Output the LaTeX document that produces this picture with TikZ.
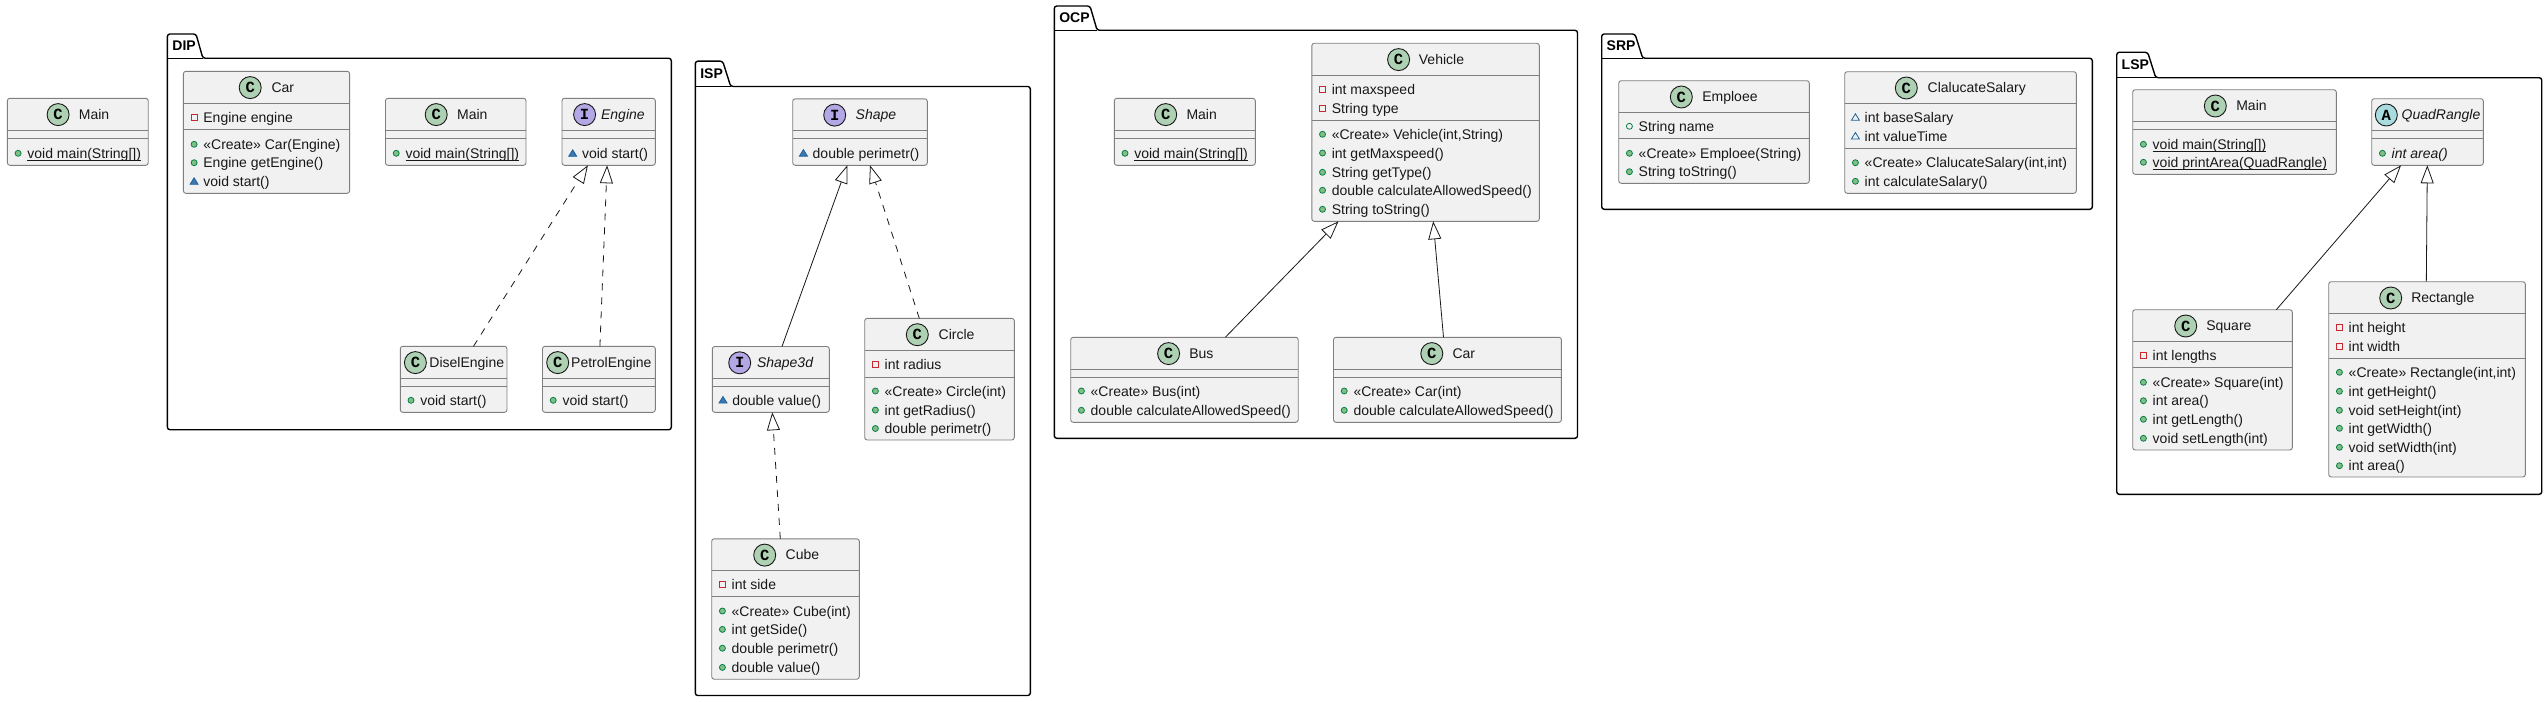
\documentclass[tikz,border=0pt]{standalone}
\usepackage{fontspec}
\setmainfont{Liberation Sans}
\newfontfamily\iconfont{Liberation Mono}[BoldFont={Liberation Mono Bold}]
\usetikzlibrary{arrows.meta,calc}
\definecolor{boxfill}{HTML}{F1F1F1}
\definecolor{boxline}{HTML}{7F7F7F}
\definecolor{ink}{HTML}{181818}
\definecolor{cfill}{HTML}{ADD1B2}
\definecolor{ifill}{HTML}{B4A7E5}
\definecolor{afill}{HTML}{A9DCDF}
\definecolor{pubfill}{HTML}{84BE84}
\definecolor{publine}{HTML}{038048}
\definecolor{privline}{HTML}{C82930}
\definecolor{pkgfill}{HTML}{4177AF}
\definecolor{pkgline}{HTML}{1963A0}
\newcounter{autoid}
\tikzset{
  classbox/.style={draw=boxline,fill=boxfill,line width=0.9pt,rounded corners=2.5pt,inner sep=0pt,outer sep=0pt,anchor=north west},
  sepline/.style={draw=boxline,line width=0.9pt},
  txt/.style={inner sep=0pt,outer sep=0pt,anchor=base west,font=\fontsize{14}{16}\selectfont,text=ink},
  glyph/.style={inner sep=0pt,outer sep=0pt,anchor=center,font=\iconfont\bfseries\fontsize{15.5}{16}\selectfont,text=black},
  pkgframe/.style={draw=black,fill=white,line width=1.4pt,rounded corners=2.5pt},
  pkgtab/.style={draw=black,line width=1.4pt},
  pkgname/.style={txt,text=black,font=\bfseries\fontsize{14}{16}\selectfont},
  inh/.style={draw=ink,line width=0.8pt,-{Triangle[open,length=18pt,width=13pt,fill=white]}},
  real/.style={inh,dash pattern=on 7pt off 7pt},
}
% package: left, tab top, tab right top, tab right bottom, body top, right, bottom, name
\newcommand{\umlpackage}[8]{%
  \stepcounter{autoid}%
  \draw[pkgframe] (#1,#5) -- (#1,#2) -- (#3,#2) -- (#4,#5) -- (#6,#5) -- (#6,#7) -- (#1,#7) -- cycle;
  \draw[pkgtab] (#1,#5) -- (#4,#5);
  \node[pkgname] (pkg\theautoid) at ({#1+5},{#2+17}) {#8};
}
% class: id, x1, y1, x2, y2, sep1, sep2, fill, letter, iconx, textx, title
\newcommand{\umlclass}[9]{%
  \node[classbox,minimum width={(#4-#2)*1pt},minimum height={(#5-#3)*1pt}] (#1) at (#2,#3) {};
  \draw[sepline] (#2,#6) -- (#4,#6);
  \draw[sepline] (#2,#7) -- (#4,#7);
  \def\cfillname{#8}\def\cletter{#9}\def\ctop{#3}\umlclasshead
}
\newcommand{\umlclasshead}[3]{%
  \stepcounter{autoid}%
  \draw[draw=ink,fill=\cfillname,line width=0.9pt] (#1,{\ctop+16.3}) circle (11);
  \node[glyph] (g\theautoid) at (#1,{\ctop+16.3}) {\cletter};
  \node[txt] (t\theautoid) at (#2,{\ctop+21}) {#3};
}
\newcommand{\VISpm}[2]{\draw[draw=publine,fill=pubfill,line width=0.8pt] (#1,#2) circle (3);}
\newcommand{\VISpf}[2]{\draw[draw=publine,fill=none,line width=0.8pt] (#1,#2) circle (3);}
\newcommand{\VISrf}[2]{\draw[draw=privline,fill=none,line width=0.9pt] ({#1-3},{#2-3}) rectangle ({#1+3},{#2+3});}
\newcommand{\VISkm}[2]{\draw[draw=pkgline,fill=pkgfill,line width=0.8pt] ({#1-4},{#2+3}) -- ({#1+4},{#2+3}) -- (#1,{#2-3.5}) -- cycle;}
\newcommand{\VISkf}[2]{\draw[draw=pkgline,fill=none,line width=0.8pt] ({#1-4},{#2+3}) -- ({#1+4},{#2+3}) -- (#1,{#2-3.5}) -- cycle;}
% member: icon macro, box left, centre y, text
\newcommand{\mem}[4]{%
  \stepcounter{autoid}%
  \pgfmathsetmacro{\memx}{#2+10.7}%
  #1{\memx}{#3}
  \node[txt] (m\theautoid) at ({#2+20},{#3+5}) {#4};
}
\newcommand{\st}[1]{\underline{\smash{#1}}}
% inheritance: style, child, child dx, parent, parent dx
\newcommand{\inherit}[5]{%
  \draw[#1] ($(#2.north west)+(#3,0)$) -- ($(#4.south west)+(#5,0)$);
}
\begin{document}
\begin{tikzpicture}[x=1pt,y=-1pt]
\useasboundingbox (0,0) rectangle (2547,701);

% root Main
\umlclass{mainroot}{7.4}{98.3}{148.2}{165.3}{130.3}{138.3}{cfill}{C}{58.1}{78.9}{Main}
\mem{\VISpm}{7.4}{153.3}{\st{void main(String[])}}

% DIP
\umlpackage{167.4}{34}{196}{202.9}{58.3}{671.3}{429.7}{DIP}
\umlclass{dipcar}{183.4}{71.3}{349.6}{193.3}{103.3}{129.3}{cfill}{C}{250.2}{271.5}{Car}
\mem{\VISrf}{183.4}{117.3}{Engine engine}
\mem{\VISpm}{183.4}{144.3}{«Create» Car(Engine)}
\mem{\VISpm}{183.4}{162.7}{Engine getEngine()}
\mem{\VISkm}{183.4}{181.3}{void start()}
\umlclass{dipmain}{385.5}{98.3}{526}{165.3}{130.3}{138.3}{cfill}{C}{436.2}{457.1}{Main}
\mem{\VISpm}{385.5}{153.3}{\st{void main(String[])}}
\umlclass{engine}{562}{98.3}{655.3}{165.3}{130.3}{138.3}{ifill}{I}{584.6}{601.1}{\itshape Engine}
\mem{\VISkm}{562}{153.3}{void start()}
\umlclass{disel}{400.3}{346.3}{507}{412.3}{378.3}{386.3}{cfill}{C}{415.4}{429.4}{DiselEngine}
\mem{\VISpm}{400.3}{400.3}{void start()}
\umlclass{petrol}{542.5}{346.3}{655.3}{412.3}{378.3}{386.3}{cfill}{C}{557.7}{571.2}{PetrolEngine}
\mem{\VISpm}{542.5}{400.3}{void start()}
\inherit{real}{disel}{73.2}{engine}{25.9}
\inherit{real}{petrol}{57.4}{engine}{45.1}

% ISP
\umlpackage{695.3}{61.2}{722.7}{730.7}{86.5}{1030.3}{695.5}{ISP}
\umlclass{shape}{792.7}{98.8}{927.3}{165.3}{130.2}{138.3}{ifill}{I}{834.7}{855.7}{\itshape Shape}
\mem{\VISkm}{792.7}{153.1}{double perimetr()}
\umlclass{shapeiii}{712.3}{346.5}{829.3}{412.3}{378.4}{386.5}{ifill}{I}{739.7}{757}{\itshape Shape3d}
\mem{\VISkm}{712.3}{400}{double value()}
\umlclass{circle}{864.7}{318.4}{1014.3}{440}{350.3}{377.2}{cfill}{C}{917.3}{938.7}{Circle}
\mem{\VISrf}{864.7}{364.9}{int radius}
\mem{\VISpm}{864.7}{391}{«Create» Circle(int)}
\mem{\VISpm}{864.7}{410.1}{int getRadius()}
\mem{\VISpm}{864.7}{428.5}{double perimetr()}
\umlclass{cube}{711.7}{538.8}{859.3}{679.2}{570.2}{596.4}{cfill}{C}{764.7}{785.7}{Cube}
\mem{\VISrf}{711.7}{584.1}{int side}
\mem{\VISpm}{711.7}{611}{«Create» Cube(int)}
\mem{\VISpm}{711.7}{629.4}{int getSide()}
\mem{\VISpm}{711.7}{648.2}{double perimetr()}
\mem{\VISpm}{711.7}{667.4}{double value()}
\inherit{inh}{shapeiii}{69.7}{shape}{54.6}
\inherit{real}{circle}{54.6}{shape}{77.3}
\inherit{real}{cube}{68.6}{shapeiii}{60}

% OCP
\umlpackage{1054.3}{6}{1090}{1097.1}{30.3}{1577.5}{438.3}{OCP}
\umlclass{ocpmain}{1114.3}{98.3}{1255.3}{165.3}{130.3}{138.3}{cfill}{C}{1165.7}{1186.5}{Main}
\mem{\VISpm}{1114.3}{153.3}{\st{void main(String[])}}
\umlclass{vehicle}{1311.8}{43.3}{1539.3}{221.3}{75.3}{120.3}{cfill}{C}{1398.6}{1418.9}{Vehicle}
\mem{\VISrf}{1311.8}{89.3}{int maxspeed}
\mem{\VISrf}{1311.8}{108.3}{String type}
\mem{\VISpm}{1311.8}{134.3}{«Create» Vehicle(int,String)}
\mem{\VISpm}{1311.8}{153}{int getMaxspeed()}
\mem{\VISpm}{1311.8}{172.3}{String getType()}
\mem{\VISpm}{1311.8}{190.3}{double calculateAllowedSpeed()}
\mem{\VISpm}{1311.8}{209.3}{String toString()}
\umlclass{bus}{1070.7}{337.3}{1298.2}{422.3}{369.3}{377.3}{cfill}{C}{1168.6}{1189.3}{Bus}
\mem{\VISpm}{1070.7}{391}{«Create» Bus(int)}
\mem{\VISpm}{1070.7}{410.3}{double calculateAllowedSpeed()}
\umlclass{ocpcar}{1333.5}{337.3}{1561.4}{422.3}{369.3}{377.3}{cfill}{C}{1431.8}{1452.5}{Car}
\mem{\VISpm}{1333.5}{391}{«Create» Car(int)}
\mem{\VISpm}{1333.5}{410.3}{double calculateAllowedSpeed()}
\inherit{inh}{bus}{154.6}{vehicle}{26.7}
\inherit{inh}{ocpcar}{110}{vehicle}{121.4}

% SRP
\umlpackage{1601.7}{34}{1635}{1642.7}{58.3}{2092.3}{209.3}{SRP}
\umlclass{emploee}{1618.7}{80.7}{1809.3}{183.3}{112.3}{138.3}{cfill}{C}{1681.3}{1702.3}{Emploee}
\mem{\VISpf}{1618.7}{126.3}{String name}
\mem{\VISpm}{1618.7}{153.3}{«Create» Emploee(String)}
\mem{\VISpm}{1618.7}{171.7}{String toString()}
\umlclass{salary}{1844.7}{71.7}{2076.3}{193.3}{103.3}{148.3}{cfill}{C}{1906.3}{1927.7}{ClalucateSalary}
\mem{\VISkf}{1844.7}{117.3}{int baseSalary}
\mem{\VISkf}{1844.7}{136}{int valueTime}
\mem{\VISpm}{1844.7}{162.7}{«Create» ClalucateSalary(int,int)}
\mem{\VISpm}{1844.7}{181.3}{int calculateSalary()}

% LSP
\umlpackage{2116.7}{52.3}{2147.7}{2155.7}{77.7}{2541.7}{494.3}{LSP}
\umlclass{lspmain}{2132.7}{89.7}{2336.3}{174.3}{121.3}{129.3}{cfill}{C}{2215.3}{2236.3}{Main}
\mem{\VISpm}{2132.7}{144.3}{\st{void main(String[])}}
\mem{\VISpm}{2132.7}{162.3}{\st{void printArea(QuadRangle)}}
\umlclass{quad}{2371.7}{98.7}{2483.3}{165.3}{130.3}{138.3}{afill}{A}{2386.3}{2401.7}{\itshape QuadRangle}
\mem{\VISpm}{2371.7}{153.3}{\itshape int area()}
\umlclass{square}{2132.7}{309.7}{2292.3}{450}{341.3}{367.3}{cfill}{C}{2185.7}{2206.3}{Square}
\mem{\VISrf}{2132.7}{355.3}{int lengths}
\mem{\VISpm}{2132.7}{382.3}{«Create» Square(int)}
\mem{\VISpm}{2132.7}{400.7}{int area()}
\mem{\VISpm}{2132.7}{419.3}{int getLength()}
\mem{\VISpm}{2132.7}{438.3}{void setLength(int)}
\umlclass{rectangle}{2328.7}{281.7}{2525.3}{477}{313.3}{358.3}{cfill}{C}{2390.7}{2411.3}{Rectangle}
\mem{\VISrf}{2328.7}{327.3}{int height}
\mem{\VISrf}{2328.7}{346.3}{int width}
\mem{\VISpm}{2328.7}{372.3}{«Create» Rectangle(int,int)}
\mem{\VISpm}{2328.7}{391.3}{int getHeight()}
\mem{\VISpm}{2328.7}{410.3}{void setHeight(int)}
\mem{\VISpm}{2328.7}{428.3}{int getWidth()}
\mem{\VISpm}{2328.7}{447.3}{void setWidth(int)}
\mem{\VISpm}{2328.7}{465.7}{int area()}
\inherit{inh}{square}{143.6}{quad}{29.3}
\inherit{inh}{rectangle}{97.6}{quad}{55.6}
\end{tikzpicture}
\end{document}
